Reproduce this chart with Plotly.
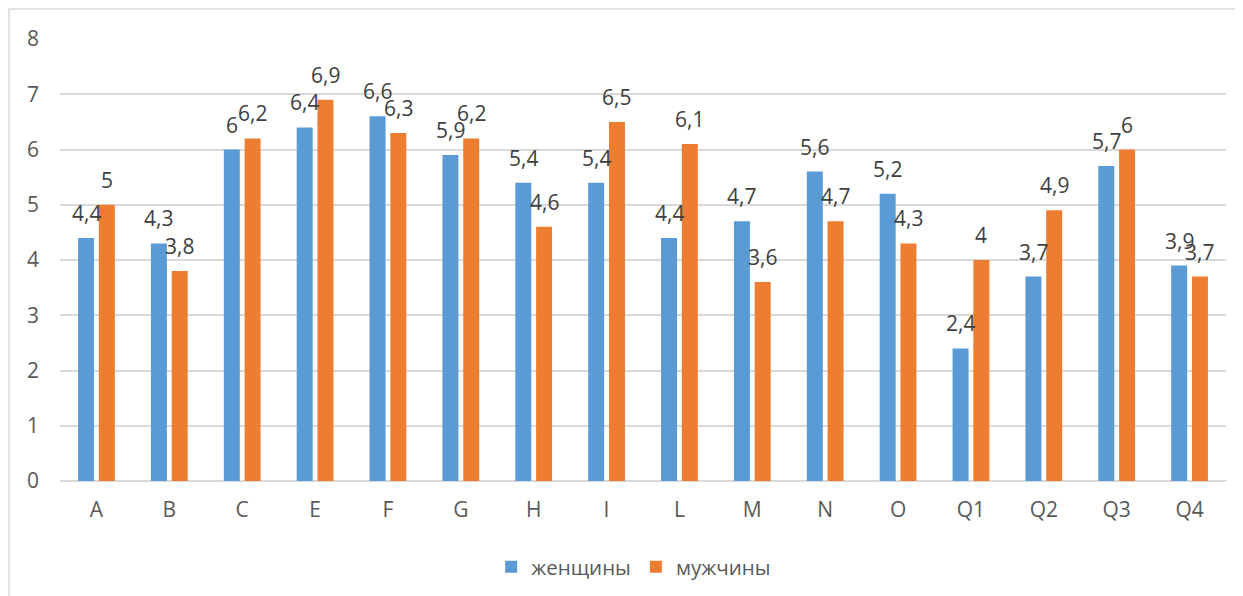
import plotly.graph_objects as go

categories = ["A", "B", "C", "E", "F", "G", "H", "I", "L", "M", "N", "O", "Q1", "Q2", "Q3", "Q4"]
women = [4.4, 4.3, 6, 6.4, 6.6, 5.9, 5.4, 5.4, 4.4, 4.7, 5.6, 5.2, 2.4, 3.7, 5.7, 3.9]
men = [5, 3.8, 6.2, 6.9, 6.3, 6.2, 4.6, 6.5, 6.1, 3.6, 4.7, 4.3, 4, 4.9, 6, 3.7]
series_names = ["женщины", "мужчины"]
y_ticks = [0, 1, 2, 3, 4, 5, 6, 7, 8]

BLUE = "#5B9BD5"
ORANGE = "#ED7D31"
FONT = "Open Sans"

# page body has an 8px margin, so the figure starts at (8, 8)
W, H = 1235, 588
ML, MR, MT, MB = 52, 17, 31, 115
BARGAP, BARGROUPGAP = 0.43, 0.23


def fmt(v):
    return str(int(v)) if float(v).is_integer() else str(v).replace(".", ",")


fig = go.Figure()
fig.add_trace(go.Bar(x=categories, y=women, name=series_names[0], marker_color=BLUE,
                     marker_line_width=0))
fig.add_trace(go.Bar(x=categories, y=men, name=series_names[1], marker_color=ORANGE,
                     marker_line_width=0))

plot_w = W - ML - MR
plot_h = H - MT - MB
cat_w = plot_w / len(categories)
offset = (1 - BARGAP) * cat_w / 4

annotations = []
for vals, sh in ((women, -offset), (men, offset)):
    for c, v in zip(categories, vals):
        annotations.append(dict(
            x=c, y=v, xref="x", yref="y", text=fmt(v), showarrow=False,
            xshift=sh, yshift=25, yanchor="middle", xanchor="center",
            font=dict(family=FONT, size=21, color="#404040"),
        ))

fig.update_layout(
    width=W, height=H,
    margin=dict(l=ML, r=MR, t=MT, b=MB, autoexpand=False),
    paper_bgcolor="white", plot_bgcolor="white",
    barmode="group", bargap=BARGAP, bargroupgap=BARGROUPGAP,
    font=dict(family=FONT, color="#595959", size=21),
    showlegend=True,
    legend=dict(orientation="h", x=0.492, xanchor="center", yref="container",
                y=29 / H, yanchor="middle",
                font=dict(family=FONT, size=20.5, color="#595959"), itemwidth=30,
                traceorder="normal"),
    annotations=annotations,
    xaxis=dict(showgrid=False, showline=False, ticks="", ticklabelstandoff=14,
               automargin=False,
               tickfont=dict(family=FONT, size=21, color="#595959"), fixedrange=True),
    yaxis=dict(range=[0, 8], tickvals=y_ticks, showgrid=True, gridcolor="#D9D9D9",
               gridwidth=1.5, zeroline=True, zerolinecolor="#D9D9D9", zerolinewidth=1.5,
               showline=False, ticks="", ticklabelstandoff=20, automargin=False,
               tickfont=dict(family=FONT, size=21, color="#595959")),
    shapes=[dict(type="rect", xref="paper", yref="paper",
                 x0=-(ML - 1) / plot_w, x1=1.05,
                 y0=-0.5, y1=(H - MB - 1) / plot_h,
                 line=dict(color="#D9D9D9", width=1.5), fillcolor="rgba(0,0,0,0)",
                 layer="below")],
)

fig.write_html("out.html")
